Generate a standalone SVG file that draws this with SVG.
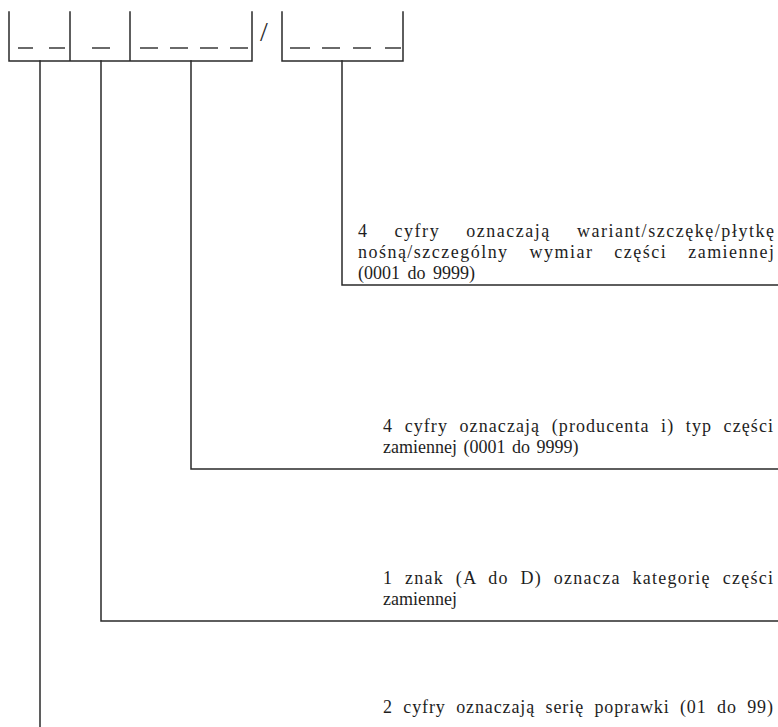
<svg xmlns="http://www.w3.org/2000/svg" width="778" height="727" viewBox="0 0 778 727">
<style>
.ln{stroke:#2a2a2a;stroke-width:1.5;fill:none;stroke-linecap:square}
.ds{stroke:#3a3a3a;stroke-width:1.4;fill:none}
.t{font-family:"Liberation Serif","Times New Roman",serif;font-size:18px;fill:#1e1e1e}
.sl{font-family:"Liberation Serif","Times New Roman",serif;font-size:28px;fill:#2a2a2a}
</style>
<rect width="778" height="727" fill="#ffffff"/>
<g id="code-box-1">
<path class="ln" d="M9,12 V61 H252 V12 M70,12 V61 M130,12 V61"/>
<path class="ds" d="M18,48 H33 M49,48 H65 M92,48 H110 M140,48 H158 M170,48 H188 M200,48 H218 M230,48 H248"/>
</g>
<g id="slash">
<text class="sl" x="260" y="41">/</text>
</g>
<g id="code-box-2">
<path class="ln" d="M282,12 V61 H403 V12"/>
<path class="ds" d="M290,48 H310 M322,48 H340 M353,48 H371 M385,48 H401"/>
</g>
<g id="connectors">
<path class="ln" d="M342,61 V285 H778"/>
<path class="ln" d="M191,61 V469 H778"/>
<path class="ln" d="M101,61 V621 H778"/>
<path class="ln" d="M40,61 V727"/>
</g>
<g id="label-variant">
<text class="t" x="358" y="237" word-spacing="20" textLength="416" lengthAdjust="spacing">4 cyfry oznaczają wariant/szczękę/płytkę</text>
<text class="t" x="358" y="258" word-spacing="15" textLength="416" lengthAdjust="spacing">nośną/szczególny wymiar części zamiennej</text>
<text class="t" x="358" y="279" word-spacing="3">(0001 do 9999)</text>
</g>
<g id="label-type">
<text class="t" x="383" y="432" word-spacing="6" textLength="390" lengthAdjust="spacing">4 cyfry oznaczają (producenta i) typ części</text>
<text class="t" x="383" y="453" word-spacing="2">zamiennej (0001 do 9999)</text>
</g>
<g id="label-category">
<text class="t" x="383" y="584" word-spacing="6" textLength="390" lengthAdjust="spacing">1 znak (A do D) oznacza kategorię części</text>
<text class="t" x="383" y="605">zamiennej</text>
</g>
<g id="label-series">
<text class="t" x="383" y="713" word-spacing="5" textLength="390" lengthAdjust="spacing">2 cyfry oznaczają serię poprawki (01 do 99)</text>
</g>
</svg>
